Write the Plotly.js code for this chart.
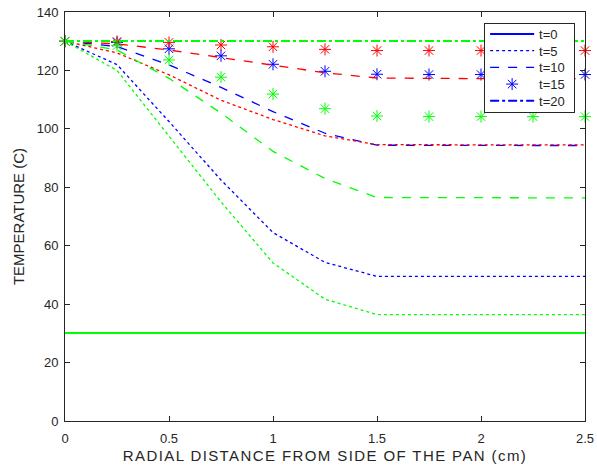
<!DOCTYPE html>
<html>
<head>
<meta charset="utf-8">
<script src="https://cdn.plot.ly/plotly-3.0.1.min.js"></script>
<style>
html,body{margin:0;padding:0;background:#fff;}
#chart{width:597px;height:471px;}
.xtitle{letter-spacing:1.4px;}
</style>
</head>
<body>
<div id="chart"></div>
<script>
// Radial distance (cm)
const xDist = [0, 0.25, 0.5, 0.75, 1, 1.25, 1.5, 1.75, 2, 2.25, 2.5];
const timeLabels = ['t=0', 't=5', 't=10', 't=15', 't=20'];

// Blue series (temperature, C)
const blueT0  = [30, 30, 30, 30, 30, 30, 30, 30, 30, 30, 30];
const blueT5  = [130, 122, 102.5, 82.5, 64.5, 54.3, 49.5, 49.5, 49.5, 49.5, 49.5];
const blueT10 = [130, 128.2, 121.9, 114.2, 105.9, 98.5, 94.4, 94.3, 94.3, 94.3, 94.3];
const blueT15 = [130, 129.6, 127.4, 125, 122.1, 119.7, 118.7, 118.6, 118.6, 118.6, 118.6];
const blueT20 = [130, 130, 130, 130, 130, 130, 130, 130, 130, 130, 130];

// Red series
const redT0  = [30, 30, 30, 30, 30, 30, 30, 30, 30, 30, 30];
const redT5  = [130, 126, 118.5, 109.8, 103.2, 97.6, 94.6, 94.5, 94.5, 94.5, 94.5];
const redT10 = [130, 129.1, 127, 124.4, 121.6, 119.2, 117.4, 117.2, 117.2, 117.2, 117.2];
const redT15 = [130, 129.9, 129.6, 128.7, 128.1, 127.2, 126.8, 126.8, 126.8, 126.8, 126.8];
const redT20 = [130, 130, 130, 130, 130, 130, 130, 130, 130, 130, 130];

// Green series
const greenT0  = [30, 30, 30, 30, 30, 30, 30, 30, 30, 30, 30];
const greenT5  = [130, 120, 97.5, 75, 54.1, 41.7, 36.4, 36.4, 36.4, 36.4, 36.4];
const greenT10 = [130, 127, 117.3, 105.4, 92.3, 83, 76.5, 76.4, 76.4, 76.4, 76.4];
const greenT15 = [130, 128.5, 123.6, 117.7, 111.9, 106.9, 104.4, 104.2, 104.2, 104.2, 104.2];
const greenT20 = [130, 130, 130, 130, 130, 130, 130, 130, 130, 130, 130];

const groups = [
  {color: '#0000ff', data: [blueT0, blueT5, blueT10, blueT15, blueT20], legend: true},
  {color: '#ff0000', data: [redT0, redT5, redT10, redT15, redT20], legend: false},
  {color: '#00ff00', data: [greenT0, greenT5, greenT10, greenT15, greenT20], legend: false}
];
const dashes = ['solid', 'dot', 'dash', null, 'dashdot'];

const traces = [];
const crispIdx = [];
groups.forEach(g => {
  g.data.forEach((ys, i) => {
    if (dashes[i] === null) {
      traces.push({
        x: xDist, y: ys, type: 'scatter', mode: 'markers', name: timeLabels[i],
        showlegend: g.legend, cliponaxis: false,
        marker: {symbol: 'asterisk-open', size: 10, color: g.color, line: {color: g.color, width: 1}}
      });
    } else {
      const constant = (i === 0 || i === 4);
      if (constant) crispIdx.push(traces.length);
      traces.push({
        x: xDist, y: ys, type: 'scatter', mode: 'lines', name: timeLabels[i],
        showlegend: g.legend,
        line: {color: g.color, width: constant ? 2 : 1.3, dash: dashes[i]}
      });
    }
  });
});

const axisCommon = {
  showline: true, linecolor: '#262626', linewidth: 1, mirror: 'allticks',
  ticks: 'inside', ticklen: 5, tickcolor: '#262626', tickwidth: 1,
  showgrid: false, zeroline: false,
  tickfont: {family: 'Liberation Sans, Arial, sans-serif', size: 13, color: '#262626'}
};

const layout = {
  width: 597, height: 471,
  margin: {l: 65, r: 12, t: 12, b: 50},
  paper_bgcolor: '#ffffff', plot_bgcolor: '#ffffff',
  font: {family: 'Liberation Sans, Arial, sans-serif', color: '#262626'},
  xaxis: Object.assign({}, axisCommon, {
    range: [0, 2.5], tick0: 0, dtick: 0.5, ticklabelstandoff: 5,
    title: {text: 'RADIAL DISTANCE FROM SIDE OF THE PAN (cm)', font: {size: 15, color: '#262626'}, standoff: 5}
  }),
  yaxis: Object.assign({}, axisCommon, {
    range: [0, 140], tick0: 0, dtick: 20, ticklabelstandoff: 3,
    title: {text: 'TEMPERATURE (C)', font: {size: 15, color: '#262626'}, standoff: 8}
  }),
  showlegend: true,
  legend: {
    x: 0.806, xanchor: 'left', y: 0.973, yanchor: 'top',
    bgcolor: '#ffffff', bordercolor: '#262626', borderwidth: 1,
    font: {size: 13, color: '#262626'},
    itemwidth: 44, tracegroupgap: 0
  }
};

Plotly.newPlot('chart', traces, layout, {staticPlot: true, displayModeBar: false}).then(gd => {
  // crisp rendering for the constant horizontal lines
  const traceGroups = gd.querySelectorAll('.scatterlayer .trace');
  crispIdx.forEach(k => {
    const tg = traceGroups[k];
    if (tg) tg.querySelectorAll('path.js-line').forEach(p => p.style.shapeRendering = 'crispEdges');
  });
  // tighten legend rows and box to match the reference
  const items = gd.querySelectorAll('.legend .traces');
  const step = 16.7;
  const parse = el => {
    const m = /translate\(\s*([-\d.]+)[ ,]+([-\d.]+)\s*\)/.exec(el.getAttribute('transform') || '');
    return m ? [parseFloat(m[1]), parseFloat(m[2])] : null;
  };
  if (items.length > 1) {
    const p0 = parse(items[0]);
    if (p0) {
      const y0 = p0[1] - 5;
      items.forEach((it, i) => {
        const p = parse(it);
        if (p) it.setAttribute('transform', 'translate(' + p[0] + ',' + (y0 + i * step) + ')');
      });
      const bg = gd.querySelector('.legend rect.bg');
      if (bg) {
        bg.setAttribute('height', 89);
        bg.setAttribute('width', 90);
      }
    }
  }
});
</script>
</body>
</html>
